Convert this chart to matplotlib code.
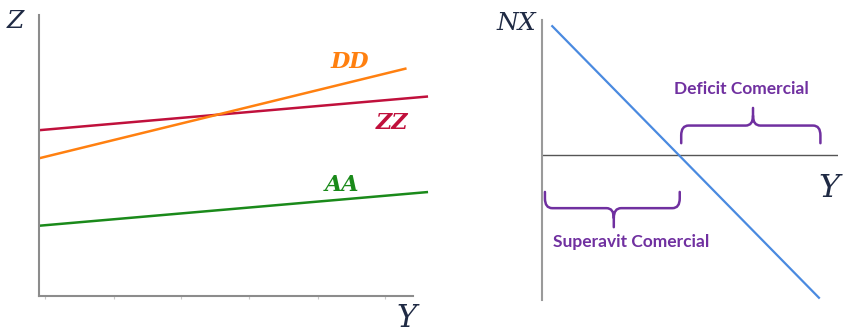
import matplotlib.pyplot as plt
from matplotlib.path import Path
from matplotlib.patches import PathPatch

# --- modelo: demanda, producción y exportaciones netas ---
y_left = [0.0, 9.95]
zz = [5.9, 7.1]
aa = [2.5, 3.7]
y_dd = [0.0, 9.4]
dd = [4.9, 8.1]
y_ticks = [0.15, 1.92, 3.63, 5.37, 7.14, 8.85]

y_nx = [0.35, 9.45]
nx = [4.6, -5.1]
y_cross = 4.7          # punto donde NX = 0
y_start = 0.1
y_end = 9.5

C_ORANGE = "#ff8010"
C_RED = "#c0103c"
C_GREEN = "#1a8a1a"
C_BLUE = "#4a8ae0"
C_PURPLE = "#7030a0"
C_NAVY = "#1f2a44"

fig = plt.figure(figsize=(8.44, 3.33), dpi=100)
W, H = 844, 333


def px_axes(x0, y0, x1, y1):
    # ejes definidos en pixeles (origen arriba a la izquierda)
    return fig.add_axes([x0 / W, 1 - y1 / H, (x1 - x0) / W, (y1 - y0) / H])


# ----------------- panel izquierdo -----------------
ax1 = px_axes(39, 15, 430, 296)
ax1.set_xlim(0, 10)
ax1.set_ylim(0, 10)
ax1.plot(y_left, zz, color=C_RED, lw=1.8, solid_capstyle="butt")
ax1.plot(y_dd, dd, color=C_ORANGE, lw=1.8, solid_capstyle="butt")
ax1.plot(y_left, aa, color=C_GREEN, lw=1.8, solid_capstyle="butt")

for s in ["top", "right"]:
    ax1.spines[s].set_visible(False)
for s in ["left", "bottom"]:
    ax1.spines[s].set_color("#8c8c8c")
    ax1.spines[s].set_linewidth(1.5)
ax1.spines["bottom"].set_bounds(0, 9.57)
ax1.set_xticks(y_ticks)
ax1.set_xticklabels([])
ax1.set_yticks([])
ax1.tick_params(axis="x", length=2, width=0.8, color="#c8c8c8")

lab = dict(fontsize=16, fontweight="bold", fontstyle="italic", family="DejaVu Serif")
ax1.text(7.45, 8.1, "DD", color=C_ORANGE, **lab)
ax1.text(8.6, 5.95, "ZZ", color=C_RED, **lab)
ax1.text(7.3, 3.75, "AA", color=C_GREEN, **lab)

ax1.text(-0.61, 9.55, "Z", color=C_NAVY, fontsize=18, fontstyle="italic",
         family="DejaVu Serif", ha="center", va="baseline", clip_on=False)
ax1.text(9.39, -1.1, "Y", color=C_NAVY, fontsize=22, fontstyle="italic",
         family="DejaVu Serif", ha="center", va="baseline", clip_on=False)

# ----------------- panel derecho -----------------
ax2 = px_axes(542, 20, 838, 300)
ax2.set_xlim(0, 10.1)
ax2.set_ylim(-5.18, 4.82)
for s in ["top", "right", "bottom"]:
    ax2.spines[s].set_visible(False)
ax2.spines["left"].set_color("#9a9a9a")
ax2.spines["left"].set_linewidth(1.5)
ax2.axhline(0, color="#555555", lw=1.0)
ax2.set_xticks([])
ax2.set_yticks([])
ax2.plot(y_nx, nx, color=C_BLUE, lw=1.6)


def brace(ax, x0, x1, y_base, y_line, y_tip, xm=None, rx=0.25, ry=0.35):
    # llave horizontal: extremos en y_base, barra en y_line, punta en y_tip
    if xm is None:
        xm = (x0 + x1) / 2
    sy = 1 if y_line > y_base else -1
    verts = [
        (x0, y_base), (x0, y_line - sy * ry), (x0, y_line), (x0 + rx, y_line),
        (xm - rx, y_line), (xm, y_line), (xm, y_line + sy * ry),
        (xm, y_tip),
        (xm, y_line + sy * ry), (xm, y_line), (xm + rx, y_line),
        (x1 - rx, y_line), (x1, y_line), (x1, y_line - sy * ry), (x1, y_base),
    ]
    codes = [Path.MOVETO, Path.LINETO, Path.CURVE3, Path.CURVE3,
             Path.LINETO, Path.CURVE3, Path.CURVE3,
             Path.LINETO,
             Path.MOVETO, Path.CURVE3, Path.CURVE3,
             Path.LINETO, Path.CURVE3, Path.CURVE3, Path.LINETO]
    ax.add_patch(PathPatch(Path(verts, codes), fill=False, ec=C_PURPLE, lw=1.8,
                           capstyle="round", joinstyle="round"))


brace(ax2, y_cross + 0.05, y_end, 0.42, 1.05, 1.68, xm=7.2)
brace(ax2, y_start, y_cross, -1.32, -1.9, -2.58, xm=2.45)

txt = dict(color=C_PURPLE, fontsize=12.5, fontweight="bold", family="Lato",
           ha="center", va="center")
ax2.text(6.8, 2.35, "Deficit Comercial", **txt)
ax2.text(3.05, -3.1, "Superavit Comercial", **txt)

ax2.text(-0.2, 4.7, "NX", color=C_NAVY, fontsize=18, fontstyle="italic",
         family="DejaVu Serif", ha="right", va="center")
ax2.text(9.8, -1.5, "Y", color=C_NAVY, fontsize=23, fontstyle="italic",
         family="DejaVu Serif", ha="center", va="baseline", clip_on=False)

fig.savefig("out.png", dpi=100)
